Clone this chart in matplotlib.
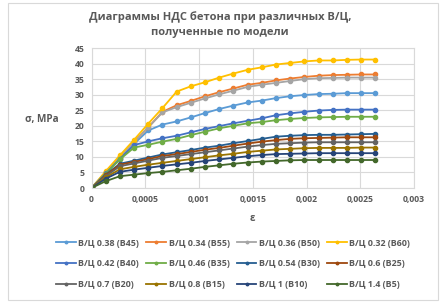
import matplotlib
matplotlib.use('Agg')
import matplotlib.pyplot as plt
from matplotlib.patches import Rectangle

# деформации (21 точка)
strain = [i * 0.000132 for i in range(21)]

labels = ['В/Ц 0.38 (B45)', 'В/Ц 0.34 (B55)', 'В/Ц 0.36 (B50)', 'В/Ц 0.32 (B60)',
          'В/Ц 0.42 (B40)', 'В/Ц 0.46 (B35)', 'В/Ц 0.54 (B30)', 'В/Ц 0.6 (B25)',
          'В/Ц 0.7 (B20)', 'В/Ц 0.8 (B15)', 'В/Ц 1 (B10)', 'В/Ц 1.4 (B5)']

colors = ['#5B9BD5', '#ED7D31', '#A5A5A5', '#FFC000',
          '#4472C4', '#70AD47', '#255E91', '#9E480E',
          '#636363', '#997300', '#264478', '#43682B']

b45 = [0, 4.8, 9.6, 14.2, 18.5, 20.4, 21.4, 22.7, 24.1, 25.4, 26.5, 27.5, 28.1, 28.9, 29.5, 29.9, 30.2, 30.3, 30.5, 30.5, 30.5]
b55 = [0, 5.0, 10.0, 14.8, 19.5, 24.5, 26.6, 28.0, 29.5, 30.8, 32.0, 33.2, 33.8, 34.6, 35.2, 35.7, 36.1, 36.3, 36.4, 36.5, 36.5]
b50 = [0, 5.0, 10.0, 14.8, 19.5, 24.3, 26.0, 27.4, 28.8, 30.1, 31.3, 32.5, 33.2, 33.8, 34.4, 35.0, 35.3, 35.4, 35.5, 35.5, 35.5]
b60 = [0, 5.4, 10.5, 15.5, 20.7, 25.7, 31.0, 32.7, 34.0, 35.5, 36.8, 38.0, 38.8, 39.7, 40.2, 40.7, 41.0, 41.0, 41.2, 41.3, 41.3]
b40 = [0, 4.7, 9.4, 13.8, 15.0, 16.0, 16.8, 17.9, 19.0, 19.9, 20.8, 21.6, 22.4, 23.4, 24.0, 24.5, 24.9, 25.1, 25.2, 25.2, 25.2]
b35 = [0, 4.6, 9.2, 13.0, 13.9, 14.9, 15.8, 17.0, 18.1, 19.2, 20.0, 20.8, 21.2, 21.8, 22.2, 22.5, 22.7, 22.8, 22.9, 22.9, 22.9]
b30 = [0, 4.3, 7.8, 8.8, 9.8, 10.8, 11.5, 12.2, 13.0, 13.6, 14.4, 15.1, 15.8, 16.5, 16.8, 17.0, 17.1, 17.1, 17.2, 17.3, 17.4]
b25 = [0, 4.1, 7.5, 8.4, 9.3, 10.3, 10.9, 11.6, 12.3, 12.9, 13.6, 14.3, 14.9, 15.4, 15.8, 16.0, 16.1, 16.2, 16.3, 16.3, 16.3]
b20 = [0, 3.8, 7.0, 7.9, 8.8, 9.7, 10.3, 10.9, 11.5, 12.1, 12.7, 13.3, 13.8, 14.2, 14.4, 14.6, 14.7, 14.7, 14.7, 14.7, 14.7]
b15 = [0, 3.4, 6.0, 6.8, 7.5, 8.1, 8.7, 9.3, 9.9, 10.5, 11.0, 11.6, 12.0, 12.4, 12.6, 12.8, 12.9, 12.9, 12.9, 13.0, 13.0]
b10 = [0, 3.0, 5.2, 5.9, 6.5, 7.1, 7.6, 8.1, 8.7, 9.2, 9.7, 10.2, 10.6, 10.9, 11.0, 11.1, 11.2, 11.2, 11.2, 11.2, 11.2]
b5 = [0, 2.2, 3.8, 4.3, 4.8, 5.2, 5.7, 6.2, 6.8, 7.3, 7.8, 8.2, 8.5, 8.7, 8.9, 9.0, 9.0, 9.0, 9.0, 9.0, 9.0]

series = [b45, b55, b50, b60, b40, b35, b30, b25, b20, b15, b10, b5]

xticks = [0, 0.0005, 0.001, 0.0015, 0.002, 0.0025, 0.003]
xtick_labels = ['0', '0,0005', '0,001', '0,0015', '0,002', '0,0025', '0,003']
yticks = list(range(0, 46, 5))

txt = '#595959'
grid = '#D9D9D9'
plt.rcParams['font.family'] = ['Open Sans', 'DejaVu Sans']

fig = plt.figure(figsize=(4.4, 3.03), dpi=100)
ax = fig.add_axes([0.208, 0.3795, 0.733, 0.462])

handles = []
for ys, lab, col in zip(series, labels, colors):
    h, = ax.plot(strain, ys, color=col, lw=1.3, marker='o', ms=3, label=lab)
    handles.append(h)

ax.set_xlim(0, 0.003)
ax.set_ylim(0, 45)
ax.set_xticks(xticks)
ax.set_xticklabels(xtick_labels)
ax.set_yticks(yticks)
ax.tick_params(length=0, labelsize=6.2, colors=txt, pad=5)
for t in ax.get_xticklabels() + ax.get_yticklabels():
    t.set_fontweight('bold')
ax.grid(True, color=grid, lw=0.8)
ax.set_axisbelow(True)
for s in ax.spines.values():
    s.set_color(grid)

fig.text(0.5, 0.918, 'Диаграммы НДС бетона при различных В/Ц,\nполученные по модели',
         ha='center', va='center', fontsize=8, fontweight='bold', color=txt, linespacing=1.45)
fig.text(0.095, 0.607, 'σ, MPa', ha='center', va='center', fontsize=7.2, fontweight='bold', color=txt)
fig.text(0.573, 0.28, 'ε', ha='center', va='center', fontsize=7, fontweight='bold', color=txt)

# легенда построчно, как в Excel
order = [r * 4 + c for c in range(4) for r in range(3)]
leg = fig.legend([handles[i] for i in order], [labels[i] for i in order],
                 loc='center', bbox_to_anchor=(0.53, 0.13), ncol=4, frameon=False,
                 fontsize=6.4, handlelength=2.2, handletextpad=0.3, columnspacing=0.8,
                 labelspacing=1.3, markerscale=0.6)
for t in leg.get_texts():
    t.set_color(txt)
    t.set_fontweight('bold')

fig.patches.append(Rectangle((8 / 440, 3 / 303), 430 / 440, 297 / 303, transform=fig.transFigure,
                             fill=False, edgecolor=grid, lw=0.8))

fig.savefig('out.png', dpi=100)
